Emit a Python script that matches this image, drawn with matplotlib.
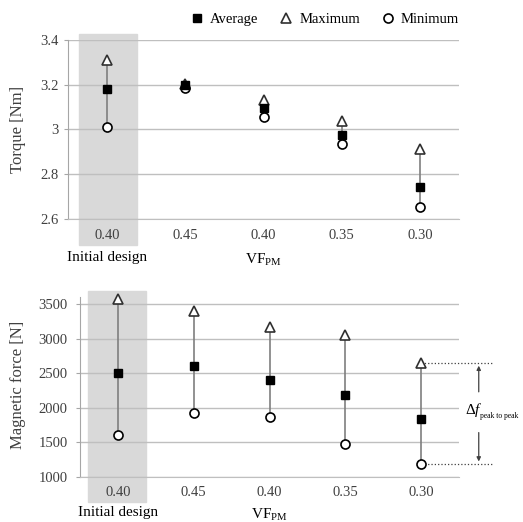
import matplotlib
matplotlib.use("Agg")
import matplotlib.pyplot as plt
import matplotlib.transforms as mtransforms
from matplotlib.patches import Rectangle
from matplotlib.lines import Line2D

plt.rcParams['font.family'] = ['Liberation Serif', 'DejaVu Serif']
plt.rcParams['mathtext.fontset'] = 'custom'
plt.rcParams['mathtext.rm'] = 'Liberation Serif'
plt.rcParams['mathtext.it'] = 'Liberation Serif:italic'

# categories (first one is the initial design)
categories = ["0.40", "0.45", "0.40", "0.35", "0.30"]

# torque [Nm]
torque_avg = [3.18, 3.20, 3.095, 2.975, 2.745]
torque_max = [3.31, 3.205, 3.13, 3.04, 2.915]
torque_min = [3.01, 3.185, 3.055, 2.935, 2.655]

# magnetic force [N]
force_avg = [2510, 2600, 2400, 2180, 1830]
force_max = [3580, 3400, 3170, 3060, 2650]
force_min = [1610, 1920, 1870, 1470, 1180]

grid_col = '#bfbfbf'
text_col = '#404040'
line_col = '#7f7f7f'

fig = plt.figure(figsize=(5.23, 5.22), dpi=100)
ax1 = fig.add_axes([0.130, 0.5805, 0.748, 0.3429])
ax2 = fig.add_axes([0.153, 0.0868, 0.7247, 0.3435])

xs = [i + 0.5 for i in range(len(categories))]


def draw(ax, avg, mx, mn, yticks, ylabels, ylim, shade):
    ax.set_xlim(0, 5)
    ax.set_ylim(*ylim)
    ax.set_yticks(yticks)
    ax.set_yticklabels(ylabels)
    ax.grid(axis='y', color=grid_col, lw=1)
    ax.set_axisbelow(True)
    for s in ['top', 'right']:
        ax.spines[s].set_visible(False)
    ax.spines['left'].set_color('#a6a6a6')
    ax.spines['bottom'].set_color(grid_col)
    ax.set_xticks(xs)
    ax.set_xticklabels(categories)
    ax.tick_params(axis='x', length=0, pad=7, labelsize=10.5, labelcolor=text_col)
    ax.tick_params(axis='y', length=3, color='#a6a6a6', pad=4, labelsize=10.5,
                   labelcolor=text_col)
    tr = mtransforms.blended_transform_factory(ax.transData, ax.transAxes)
    ax.add_patch(Rectangle((shade[0], shade[2]), shade[1] - shade[0], shade[3] - shade[2],
                           transform=tr, color='#d9d9d9', clip_on=False, zorder=0))
    ax.vlines(xs, mn, mx, color=line_col, lw=1.2, zorder=2)
    ax.plot(xs, mx, ls='none', marker='^', ms=7, mfc='white', mec='#303030', mew=1.2,
            zorder=3, clip_on=False)
    ax.plot(xs, mn, ls='none', marker='o', ms=6.5, mfc='white', mec='black', mew=1.2,
            zorder=3, clip_on=False)
    ax.plot(xs, avg, ls='none', marker='s', ms=5.5, color='black', zorder=4, clip_on=False)
    ax.text(xs[0], shade[4], 'Initial design', transform=tr, ha='center', va='center',
            fontsize=11, color='black')
    ax.text(xs[2], shade[4] - 0.012, r'VF$_{\rm PM}$', transform=tr, ha='center',
            va='center', fontsize=11, color='black')


draw(ax1, torque_avg, torque_max, torque_min,
     [2.6, 2.8, 3.0, 3.2, 3.4], ['2.6', '2.8', '3', '3.2', '3.4'], (2.6, 3.4),
     (0.14, 0.88, -0.145, 1.034, -0.215))
draw(ax2, force_avg, force_max, force_min,
     [1000, 1500, 2000, 2500, 3000, 3500], ['1000', '1500', '2000', '2500', '3000', '3500'],
     (1000, 3600), (0.105, 0.87, -0.141, 1.036, -0.2))
ax2.tick_params(axis='y', pad=6)

fig.text(0.034, 0.752, 'Torque [Nm]', rotation=90, ha='center', va='center', fontsize=12,
         color=text_col)
fig.text(0.034, 0.262, 'Magnetic force [N]', rotation=90, ha='center', va='center',
         fontsize=12, color=text_col)

# peak to peak annotation on the last category
ax2.plot([xs[-1], 5.45], [force_max[-1]] * 2, ls=':', color='#404040', lw=0.9, clip_on=False)
ax2.plot([xs[-1], 5.45], [force_min[-1]] * 2, ls=':', color='#404040', lw=0.9, clip_on=False)
ax2.annotate('', xy=(5.26, force_max[-1]), xytext=(5.26, 2190),
             arrowprops=dict(arrowstyle='-|>', color='#404040', lw=0.9, mutation_scale=6),
             annotation_clip=False)
ax2.annotate('', xy=(5.26, force_min[-1]), xytext=(5.26, 1680),
             arrowprops=dict(arrowstyle='-|>', color='#404040', lw=0.9, mutation_scale=6),
             annotation_clip=False)
ax2.text(5.08, 1960, r'$\Delta f$', ha='left', va='center', fontsize=11, clip_on=False)
ax2.text(5.28, 1885, 'peak to peak', ha='left', va='center', fontsize=5.5, clip_on=False)

handles = [
    Line2D([], [], ls='none', marker='s', ms=5.5, color='black'),
    Line2D([], [], ls='none', marker='^', ms=7, mfc='white', mec='#303030', mew=1.2),
    Line2D([], [], ls='none', marker='o', ms=6.5, mfc='white', mec='black', mew=1.2),
]
fig.legend(handles, ['Average', 'Maximum', 'Minimum'], loc='center', ncol=3,
           bbox_to_anchor=(0.62, 0.962), frameon=False, fontsize=10.5, handlelength=1,
           handletextpad=0.4, columnspacing=1.4)

fig.savefig('out.png', dpi=100)
